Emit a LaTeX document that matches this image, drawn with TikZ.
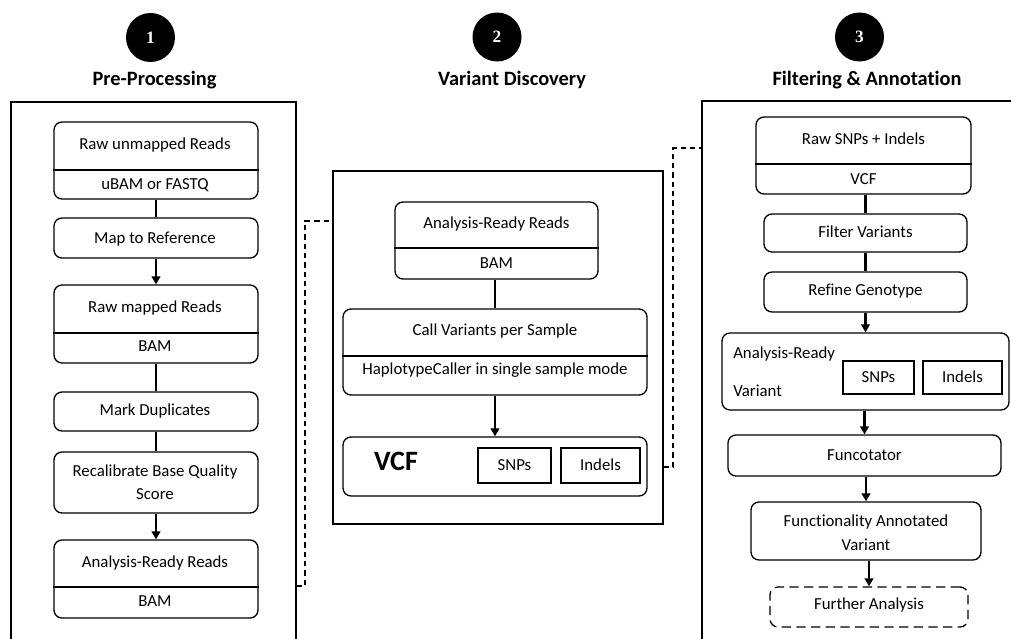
\documentclass[tikz,border=0pt]{standalone}
\usepackage{fontspec}
\setmainfont[Ligatures={NoCommon}]{Carlito}
\newfontfamily\numfont{Liberation Serif}
\usetikzlibrary{arrows.meta,fit,calc}
\begin{document}
\begin{tikzpicture}[x=0.75pt,y=-0.75pt,
  box/.style={draw, rounded corners=6pt, line width=1pt, inner sep=0pt},
  dbox/.style={box, dash pattern=on 7pt off 4pt},
  sbox/.style={draw, line width=1.5pt, inner sep=0pt},
  txt/.style={font=\fontsize{12.6}{16.5}\selectfont, inner sep=0pt, text height=0.644em, text depth=0pt, yshift=-0.8pt},
  ttl/.style={font=\fontsize{15.3}{18}\selectfont\bfseries, inner sep=0pt, text height=0.644em, text depth=0pt, yshift=-2pt},
  num/.style={circle, fill=black, minimum size=36.75pt, inner sep=0pt, text=white, font=\numfont\fontsize{13}{13}\selectfont\bfseries},
  panel/.style={draw, line width=0.8pt, inner sep=0pt},
  divl/.style={line width=1pt},
  conn/.style={line width=1.7pt},
  arr/.style={conn, -{Triangle[width=6.5pt,length=6pt]}},
  link/.style={line width=1pt, dash pattern=on 4pt off 3pt},
]
\useasboundingbox (0,0) rectangle (1011,639);

% headers
\node[num] (n1) at (150.5,37.5) {1};
\node[num] (n2) at (497,37) {2};
\node[num] (n3) at (859.5,37) {3};
\node[ttl] (t1) at (154.5,79) {Pre-Processing};
\node[ttl] (t2) at (512,79) {Variant Discovery};
\node[ttl] (t3) at (867,79) {Filtering \& Annotation};

% panels
\node[panel, fit={(11,102)(296,700)}] (p1) {};
\node[panel, fit={(333,171)(663,524)}] (p2) {};
\node[panel, fit={(702,101)(1060,700)}] (p3) {};

% panel links
\coordinate (j1a) at (305,586);
\coordinate (j1b) at (305,221);
\draw[link] (j1a -| p1.east) -- (j1a) -- (j1b) -- (j1b -| p2.west);
\coordinate (j2a) at (673,467);
\coordinate (j2b) at (673,148);
\draw[link] (j2a -| p2.east) -- (j2a) -- (j2b) -- (j2b -| p3.west);

% ---------- panel 1 ----------
\node[box, fit={(54,122)(258,199)}] (rur) {};
\draw[divl] (rur.west |- 0,170) -- (rur.east |- 0,170);
\node[txt] (rurt) at (155,144) {Raw unmapped Reads};
\node[txt] (rurb) at (155,184.5) {uBAM or FASTQ};

\node[box, fit={(54,218)(258,258)}] (map) {};
\node[txt] (mapt) at (155,238) {Map to Reference};

\node[box, fit={(54,285)(258,363)}] (rmr) {};
\draw[divl] (rmr.west |- 0,333) -- (rmr.east |- 0,333);
\node[txt] (rmrt) at (155,307.5) {Raw mapped Reads};
\node[txt] (rmrb) at (155,346.5) {BAM};

\node[box, fit={(54,392)(258,431)}] (mdup) {};
\node[txt] (mdupt) at (155,410.5) {Mark Duplicates};

\node[box, fit={(54,452)(258,513)}] (rbq) {};
\node[txt] (rbqt) at (155,471.5) {Recalibrate Base Quality};
\node[txt] (rbqb) at (155,494.5) {Score};

\node[box, fit={(54,540)(258,618)}] (arr1) {};
\draw[divl] (arr1.west |- 0,587) -- (arr1.east |- 0,587);
\node[txt] (arr1t) at (155,562.5) {Analysis-Ready Reads};
\node[txt] (arr1b) at (155,601.5) {BAM};

\draw[conn] (rur) -- (map);
\draw[arr] (map) -- (rmr);
\draw[conn] (rmr) -- (mdup);
\draw[conn] (mdup) -- (rbq);
\draw[arr] (rbq) -- (arr1);

% ---------- panel 2 ----------
\node[box, fit={(395,202)(598,279)}] (ar2) {};
\draw[divl] (ar2.west |- 0,248) -- (ar2.east |- 0,248);
\node[txt] (ar2t) at (496.5,223.5) {Analysis-Ready Reads};
\node[txt] (ar2b) at (496.5,263) {BAM};

\node[box, fit={(343,309)(647,395)}] (call) {};
\draw[divl] (call.west |- 0,356) -- (call.east |- 0,356);
\node[txt] (callt) at (495,330.5) {Call Variants per Sample};
\node[txt] (callb) at (495,369.5) {HaplotypeCaller in single sample mode};

\node[box, fit={(343,437)(647,496)}] (vcf) {};
\node[font=\fontsize{21}{21}\selectfont\bfseries, inner sep=0pt, text height=0.644em, text depth=0pt] (vcft) at (396,466) {VCF};
\node[sbox, fit={(478,448)(551,483)}] (snp2) {};
\node[txt] at (snp2.center) {SNPs};
\node[sbox, fit={(561,448)(640,483)}] (ind2) {};
\node[txt] at (ind2.center) {Indels};

\draw[conn] (ar2.south -| call.north) -- (call.north);
\draw[arr] (call) -- (vcf);

% ---------- panel 3 ----------
\node[box, fit={(756,117)(971,194)}] (raw3) {};
\draw[divl] (raw3.west |- 0,164) -- (raw3.east |- 0,164);
\node[txt] (raw3t) at (863.5,139) {Raw SNPs + Indels};
\node[txt] (raw3b) at (863.5,179) {VCF};

\node[box, fit={(764,214)(967,252)}] (filt) {};
\node[txt] (filtt) at (865.5,232) {Filter Variants};

\node[box, fit={(764,272)(967,312)}] (refg) {};
\node[txt] (refgt) at (865.5,290) {Refine Genotype};

\node[box, fit={(722,333)(1009,410)}] (arv) {};
\node[txt, anchor=west] (arvt) at (733,353.5) {Analysis-Ready};
\node[txt, anchor=west] (arvb) at (733,391.5) {Variant};
\node[sbox, fit={(843,361)(914,394)}] (snp3) {};
\node[txt] at (snp3.center) {SNPs};
\node[sbox, fit={(923,361)(1002,394)}] (ind3) {};
\node[txt] at (ind3.center) {Indels};

\node[box, fit={(728,435)(1001,476)}] (func) {};
\node[txt] (funct) at (864.5,455) {Funcotator};

\node[box, fit={(751,502)(981,560)}] (fav) {};
\node[txt] (favt) at (866,521.5) {Functionality Annotated};
\node[txt] (favb) at (866,545) {Variant};

\node[dbox, fit={(770,587)(968,627)}] (fa) {};
\node[txt] (fat) at (869,604.5) {Further Analysis};

\draw[conn] (raw3.south -| filt.north) -- (filt.north);
\draw[conn] (filt) -- (refg);
\draw[arr] (refg) -- (arv);
\draw[arr] (arv.south -| func.north) -- (func.north);
\draw[arr] (func.south -| fav.north) -- (fav.north);
\draw[arr] (fav.south -| fa.north) -- (fa.north);
\end{tikzpicture}
\end{document}
